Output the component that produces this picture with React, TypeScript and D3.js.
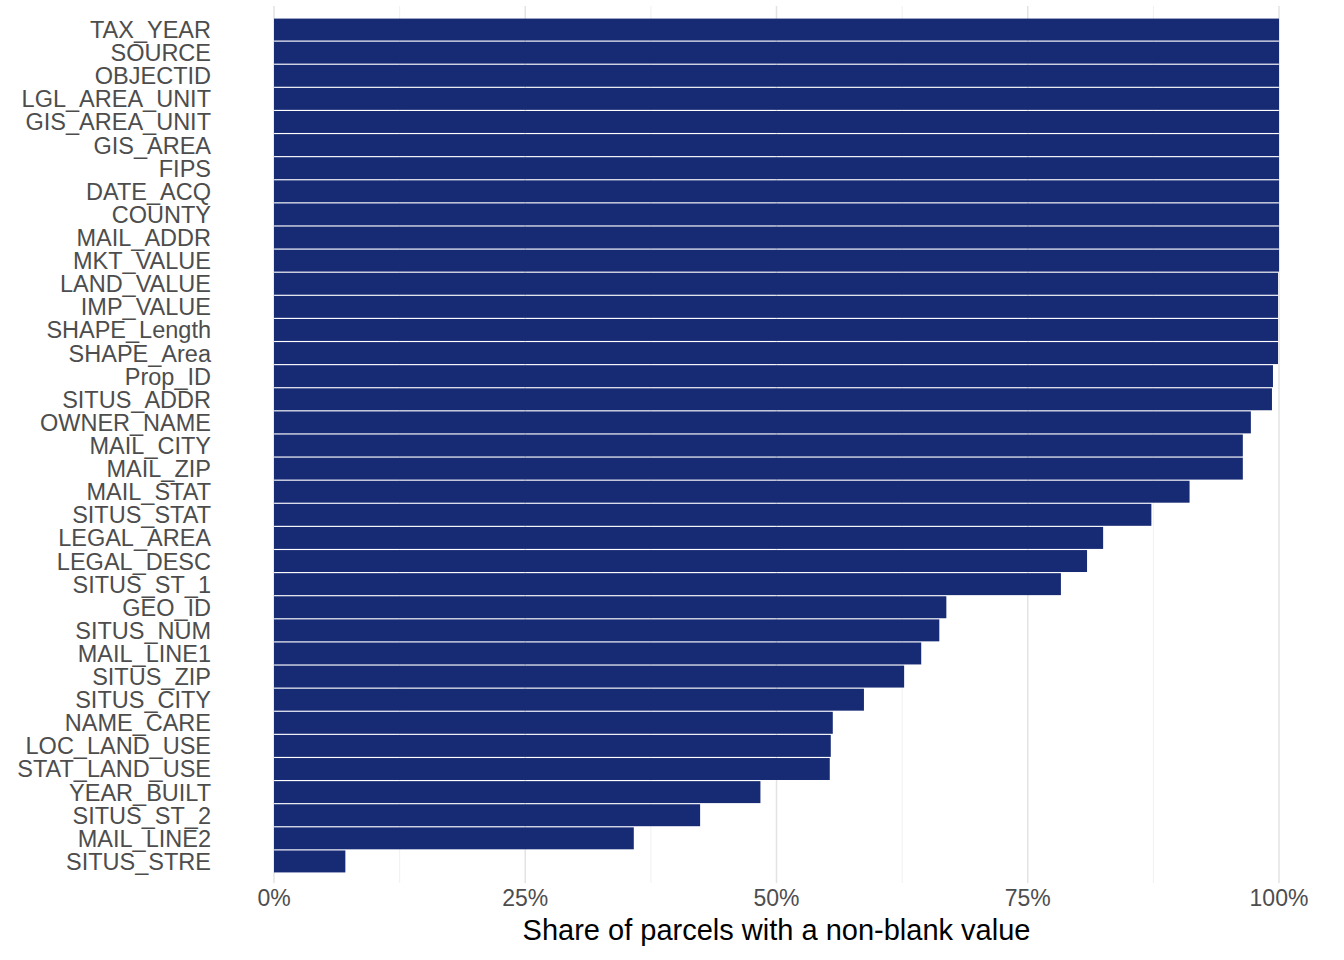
import React from "react";
import * as d3 from "d3";

const fields = [
  "TAX_YEAR", "SOURCE", "OBJECTID", "LGL_AREA_UNIT", "GIS_AREA_UNIT", "GIS_AREA", "FIPS",
  "DATE_ACQ", "COUNTY", "MAIL_ADDR", "MKT_VALUE", "LAND_VALUE", "IMP_VALUE", "SHAPE_Length",
  "SHAPE_Area", "Prop_ID", "SITUS_ADDR", "OWNER_NAME", "MAIL_CITY", "MAIL_ZIP", "MAIL_STAT",
  "SITUS_STAT", "LEGAL_AREA", "LEGAL_DESC", "SITUS_ST_1", "GEO_ID", "SITUS_NUM", "MAIL_LINE1",
  "SITUS_ZIP", "SITUS_CITY", "NAME_CARE", "LOC_LAND_USE", "STAT_LAND_USE", "YEAR_BUILT",
  "SITUS_ST_2", "MAIL_LINE2", "SITUS_STRE",
];
const shares = [
  1, 1, 1, 1, 1, 1, 1,
  1, 1, 1, 1, 0.999, 0.999, 0.999,
  0.999, 0.994, 0.993, 0.972, 0.964, 0.964, 0.911,
  0.873, 0.825, 0.809, 0.783, 0.669, 0.662, 0.644,
  0.627, 0.587, 0.556, 0.554, 0.553, 0.484,
  0.424, 0.358, 0.071,
];
const xTicks = [0, 0.25, 0.5, 0.75, 1];
const xMinor = [0.125, 0.375, 0.625, 0.875];

const W = 1344, H = 960;
const left = 274, right = 1279, top = 18, bottom = 873;

export default function App() {
  const x = d3.scaleLinear().domain([0, 1]).range([left, right]);
  const y = d3.scaleBand<string>().domain(fields).range([top, bottom]).paddingInner(0.05).paddingOuter(0.025);
  const font = "'Liberation Sans', Arial, sans-serif";
  return (
    <svg width={W} height={H} style={{ position: "absolute", left: 0, top: 0, fontFamily: font }}>
      <rect width={W} height={H} fill="#fff" />
      {xMinor.map(t => (
        <line key={"m" + t} x1={x(t)} x2={x(t)} y1={6} y2={bottom + 10} stroke="#f0f0f0" strokeWidth={1} />
      ))}
      {xTicks.map(t => (
        <line key={t} x1={x(t)} x2={x(t)} y1={6} y2={bottom + 10} stroke="#e3e3e3" strokeWidth={1.5} />
      ))}
      {fields.map((f, i) => (
        <rect key={f} x={x(0)} y={y(f)!} width={x(shares[i]) - x(0)} height={y.bandwidth()} fill="#172a74" />
      ))}
      {fields.map(f => (
        <text key={f} x={211} y={y(f)! + y.bandwidth() / 2} dy="0.36em" textAnchor="end" fontSize={23.5} fill="#4d4d4d">{f}</text>
      ))}
      {xTicks.map(t => (
        <text key={t} x={x(t)} y={906} textAnchor="middle" fontSize={23} fill="#4d4d4d">{d3.format(".0%")(t)}</text>
      ))}
      <text x={(left + right) / 2} y={940} textAnchor="middle" fontSize={29} fill="#000">Share of parcels with a non-blank value</text>
    </svg>
  );
}
